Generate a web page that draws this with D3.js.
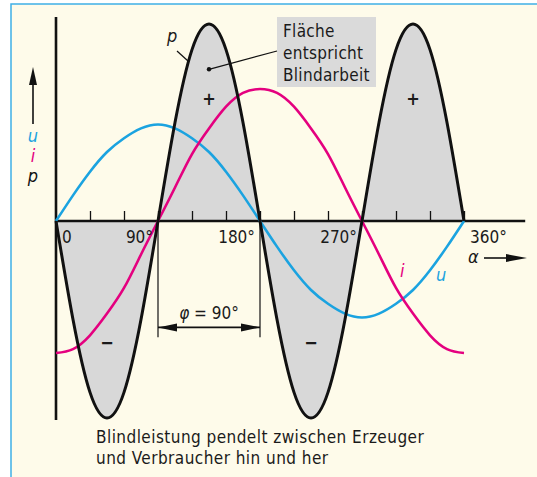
<!DOCTYPE html>
<html>
<head>
<meta charset="utf-8">
<script src="https://cdn.jsdelivr.net/npm/d3@7"></script>
<style>
  html, body { margin: 0; padding: 0; background: #fff; }
  svg { display: block; }
  text { font-family: "DejaVu Sans", sans-serif; font-stretch: condensed; fill: #1a1a1a; }
</style>
</head>
<body>
<div id="chart"></div>
<script>
// angle samples (degrees) and curve values (p peak = 1)
const alphaDeg = [0, 15, 30, 45, 60, 75, 90, 105, 120, 135, 150, 165, 180,
                  195, 210, 225, 240, 255, 270, 285, 300, 315, 330, 345, 360];
const uValues = [0, 0.13, 0.25, 0.35, 0.42, 0.47, 0.49, 0.47, 0.42, 0.35, 0.25, 0.13, 0,
                 -0.13, -0.25, -0.35, -0.42, -0.47, -0.49, -0.47, -0.42, -0.35, -0.25, -0.13, 0];
const iValues = [-0.67, -0.65, -0.58, -0.47, -0.34, -0.17, 0, 0.17, 0.34, 0.47, 0.58, 0.65, 0.67,
                 0.65, 0.58, 0.47, 0.34, 0.17, 0, -0.17, -0.34, -0.47, -0.58, -0.65, -0.67];
const pValues = [0, -0.5, -0.87, -1, -0.87, -0.5, 0, 0.5, 0.87, 1, 0.87, 0.5, 0,
                 -0.5, -0.87, -1, -0.87, -0.5, 0, 0.5, 0.87, 1, 0.87, 0.5, 0];

const tickDegrees = [30, 60, 90, 120, 150, 180, 210, 240, 270, 300, 330, 360];
const tickLabels = [
    { deg: 0, text: '0', side: 'right' },
    { deg: 90, text: '90°', side: 'left' },
    { deg: 180, text: '180°', side: 'left' },
    { deg: 270, text: '270°', side: 'left' },
    { deg: 360, text: '360°', side: 'right' }
];
const signMarks = [
    { deg: 135, val: 0.62, text: '+' },
    { deg: 315, val: 0.62, text: '+' },
    { deg: 45, val: -0.62, text: '−' },
    { deg: 225, val: -0.62, text: '−' }
];
const boxLines = ['Fläche', 'entspricht', 'Blindarbeit'];
const captionLines = ['Blindleistung pendelt zwischen Erzeuger', 'und Verbraucher hin und her'];

const W = 537, H = 477;
const BLUE = '#1ba3e0', MAGENTA = '#e4007f', INK = '#111';

const svg = d3.select('#chart').append('svg').attr('width', W).attr('height', H);

// cream panel with blue frame on top and left
svg.append('rect').attr('x', 11).attr('y', 4).attr('width', W - 11).attr('height', H - 4).attr('fill', '#fefbea');
svg.append('path').attr('d', `M11,${H} V4 H${W}`).attr('fill', 'none').attr('stroke', '#3fb0e6').attr('stroke-width', 1.5);

const x = d3.scaleLinear().domain([0, 360]).range([56, 464]);
const y = d3.scaleLinear().domain([-1, 1]).range([418, 24]);
const axisEndDeg = 414;

const pts = vals => alphaDeg.map((a, k) => [a, vals[k]]);

const area = d3.area().x(d => x(d[0])).y0(y(0)).y1(d => y(d[1])).curve(d3.curveNatural);
const line = d3.line().x(d => x(d[0])).y(d => y(d[1])).curve(d3.curveNatural);

svg.append('path').datum(pts(pValues)).attr('d', area).attr('fill', '#d8d8d8');

// ticks
const ax = svg.append('g').attr('transform', `translate(0,${y(0)})`)
    .call(d3.axisTop(x).tickValues(tickDegrees).tickSize(10).tickFormat(''));
ax.select('.domain').remove();
ax.selectAll('.tick line').attr('stroke', INK).attr('stroke-width', 1.3);

// axes
svg.append('line').attr('x1', x(0)).attr('x2', x(axisEndDeg)).attr('y1', y(0)).attr('y2', y(0))
    .attr('stroke', INK).attr('stroke-width', 2.4);
svg.append('line').attr('x1', x(0)).attr('x2', x(0)).attr('y1', 17).attr('y2', 420)
    .attr('stroke', INK).attr('stroke-width', 2.6);

svg.append('path').datum(pts(uValues)).attr('d', line).attr('fill', 'none').attr('stroke', BLUE).attr('stroke-width', 2.6);
svg.append('path').datum(pts(iValues)).attr('d', line).attr('fill', 'none').attr('stroke', MAGENTA).attr('stroke-width', 2.6);
svg.append('path').datum(pts(pValues)).attr('d', line).attr('fill', 'none').attr('stroke', INK).attr('stroke-width', 3);

// tick labels
svg.selectAll('.tlab').data(tickLabels).enter().append('text')
    .attr('class', 'tlab')
    .attr('x', d => x(d.deg) + (d.side === 'right' ? 6 : -5))
    .attr('y', 243)
    .attr('text-anchor', d => d.side === 'right' ? 'start' : 'end')
    .attr('font-size', 17)
    .text(d => d.text);

// + / - signs
svg.selectAll('.sign').data(signMarks).enter().append('text')
    .attr('x', d => x(d.deg)).attr('y', d => y(d.val) + 6)
    .attr('text-anchor', 'middle').attr('font-size', 18).attr('font-weight', 'bold')
    .text(d => d.text);

function arrowHead(tx, ty, dx, dy, len, half) {
    const nx = -dy, ny = dx;
    const bx = tx - dx * len, by = ty - dy * len;
    svg.append('path')
        .attr('d', `M${tx},${ty} L${bx + nx * half},${by + ny * half} L${bx - nx * half},${by - ny * half} Z`)
        .attr('fill', INK);
}

// left y arrow + labels
svg.append('line').attr('x1', 33).attr('x2', 33).attr('y1', 124).attr('y2', 80).attr('stroke', INK).attr('stroke-width', 1.6);
arrowHead(33, 67, 0, -1, 18, 4);
const yLabs = [{ t: 'u', c: BLUE, y: 142 }, { t: 'i', c: MAGENTA, y: 162 }, { t: 'p', c: INK, y: 182 }];
svg.selectAll('.ylab').data(yLabs).enter().append('text')
    .attr('x', 33).attr('y', d => d.y).attr('text-anchor', 'middle')
    .attr('font-size', 18).attr('font-style', 'italic')
    .style('fill', d => d.c).text(d => d.t);

// alpha arrow
svg.append('text').attr('x', 468).attr('y', 263).attr('font-size', 18).attr('font-style', 'italic').text('α');
svg.append('line').attr('x1', 484).attr('x2', 510).attr('y1', 258).attr('y2', 258).attr('stroke', INK).attr('stroke-width', 1.6);
arrowHead(527, 258, 1, 0, 21, 4);

// curve labels
svg.append('text').attr('x', 400).attr('y', 277).attr('font-size', 18).attr('font-style', 'italic').style('fill', MAGENTA).text('i');
svg.append('text').attr('x', 436).attr('y', 281).attr('font-size', 18).attr('font-style', 'italic').style('fill', BLUE).text('u');
svg.append('text').attr('x', 167).attr('y', 42).attr('font-size', 18).attr('font-style', 'italic').text('p');
svg.append('line').attr('x1', 177).attr('y1', 51).attr('x2', 188).attr('y2', 61).attr('stroke', INK).attr('stroke-width', 1.2);

// annotation box
svg.append('rect').attr('x', 277).attr('y', 17).attr('width', 99).attr('height', 70).attr('fill', '#dadada');
svg.append('line').attr('x1', x(135)).attr('y1', y(0.77)).attr('x2', 277).attr('y2', 51).attr('stroke', INK).attr('stroke-width', 1.2);
svg.append('circle').attr('cx', x(135)).attr('cy', y(0.77)).attr('r', 2.2).attr('fill', INK);
svg.selectAll('.box').data(boxLines).enter().append('text')
    .attr('x', 283).attr('y', (d, k) => 37 + k * 22).attr('font-size', 17).attr('letter-spacing', 0.3).text(d => d);

// phase dimension
const dimY = y(-0.54);
[90, 180].forEach(a => {
    svg.append('line').attr('x1', x(a)).attr('x2', x(a)).attr('y1', y(0)).attr('y2', y(-0.59))
        .attr('stroke', INK).attr('stroke-width', 1.2);
});
svg.append('line').attr('x1', x(90)).attr('x2', x(180)).attr('y1', dimY).attr('y2', dimY).attr('stroke', INK).attr('stroke-width', 1.6);
arrowHead(x(90), dimY, -1, 0, 19, 4);
arrowHead(x(180), dimY, 1, 0, 19, 4);
svg.append('text').attr('x', x(135)).attr('y', 319).attr('text-anchor', 'middle').attr('font-size', 17)
    .html('<tspan font-style="italic">φ</tspan> = 90°');

// caption
svg.selectAll('.cap').data(captionLines).enter().append('text')
    .attr('x', 96).attr('y', (d, k) => 443 + k * 21).attr('font-size', 17).attr('letter-spacing', 0.45).text(d => d);
</script>
</body>
</html>
